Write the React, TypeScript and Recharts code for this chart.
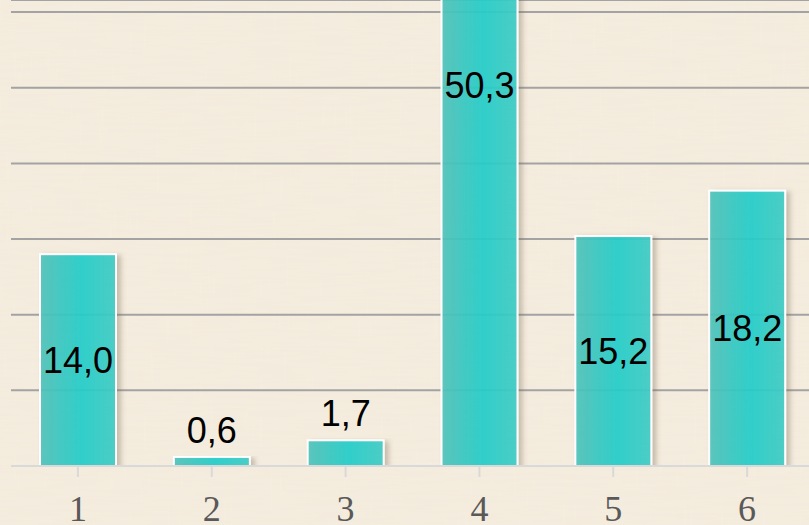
import React from 'react';
import { BarChart, Bar, XAxis, YAxis, CartesianGrid, LabelList } from 'recharts';

const categories = ['1', '2', '3', '4', '5', '6'];
const values = [14.0, 0.6, 1.7, 50.3, 15.2, 18.2];
const yTicks = [5, 10, 15, 20, 25, 30];
const yMax = 30.8;

const data = categories.map((c, i) => ({ name: c, value: values[i] }));

const fmt = (v: number) => v.toFixed(1).replace('.', ',');

const BarShape = (props: any) => {
  const { x, y, width, height } = props;
  if (height <= 0) return null;
  return (
    <g>
      <rect x={x} y={y} width={width} height={height} fill="url(#barGrad)" fillOpacity={0.9} stroke="#ffffff" strokeWidth={2} filter="url(#barShadow)" />
    </g>
  );
};

const DataLabel = (props: any) => {
  const { x, y, width, height, value } = props;
  const cx = x + width / 2;
  const small = height < 60;
  const ty = small ? y - 14 : y + height / 2;
  return (
    <text x={cx} y={ty} textAnchor="middle" dominantBaseline={small ? 'auto' : 'central'} fontFamily="'Liberation Sans', Arial, sans-serif" fontSize={36} fill="#000000">
      {fmt(Number(value))}
    </text>
  );
};

export default function App() {
  return (
    <div style={{ position: 'absolute', left: 0, top: 0, width: 809, height: 525, overflow: 'hidden', background: '#f6eee0' }}>
      <svg width={809} height={525} style={{ position: 'absolute', left: 0, top: 0 }}>
        <defs>
          <filter id="paper" x="0" y="0" width="100%" height="100%">
            <feTurbulence type="fractalNoise" baseFrequency="0.02 0.3" numOctaves={3} seed={4} result="n" />
            <feColorMatrix type="matrix" values="0 0 0 0 0.6  0 0 0 0 0.52  0 0 0 0 0.38  0 0 0 0.06 0" />
          </filter>
          <filter id="paper2" x="0" y="0" width="100%" height="100%">
            <feTurbulence type="fractalNoise" baseFrequency="0.3 0.02" numOctaves={2} seed={9} result="n" />
            <feColorMatrix type="matrix" values="0 0 0 0 0.6  0 0 0 0 0.52  0 0 0 0 0.38  0 0 0 0.04 0" />
          </filter>
        </defs>
        <rect x={0} y={0} width={809} height={525} fill="#f6eee0" />
        <rect x={0} y={0} width={809} height={525} filter="url(#paper)" />
        <rect x={0} y={0} width={809} height={525} filter="url(#paper2)" />
      </svg>
      <div style={{ position: 'absolute', left: 0, top: 0 }}>
        <BarChart width={814} height={525} data={data} margin={{ top: 0, right: 0, bottom: 0, left: 11 }} barSize={76}>
          <defs>
            <linearGradient id="barGrad" x1="0" y1="0" x2="1" y2="0">
              <stop offset="0%" stopColor="#4fc3bb" />
              <stop offset="55%" stopColor="#1dcfcb" />
              <stop offset="100%" stopColor="#3ecdc6" />
            </linearGradient>
            <filter id="barShadow" x="-20%" y="-5%" width="150%" height="115%">
              <feDropShadow dx={4} dy={2} stdDeviation={2.5} floodColor="#6b5a40" floodOpacity={0.35} />
            </filter>
          </defs>
          <CartesianGrid horizontal vertical={false} stroke="#a3a3a3" strokeWidth={2} />
          <YAxis hide domain={[0, yMax]} ticks={yTicks} allowDataOverflow type="number" />
          <XAxis
            dataKey="name"
            height={59}
            axisLine={{ stroke: '#d9d9d9', strokeWidth: 2 }}
            tickLine={{ stroke: '#d9d9d9', strokeWidth: 2 }}
            tickSize={11}
            tickMargin={18}
            tick={{ fill: '#595959', fontSize: 36, fontFamily: "'Liberation Serif', 'Times New Roman', serif" }}
            interval={0}
          />
          <Bar dataKey="value" isAnimationActive={false} shape={<BarShape />}>
            <LabelList dataKey="value" content={<DataLabel />} />
          </Bar>
        </BarChart>
      </div>
    </div>
  );
}
